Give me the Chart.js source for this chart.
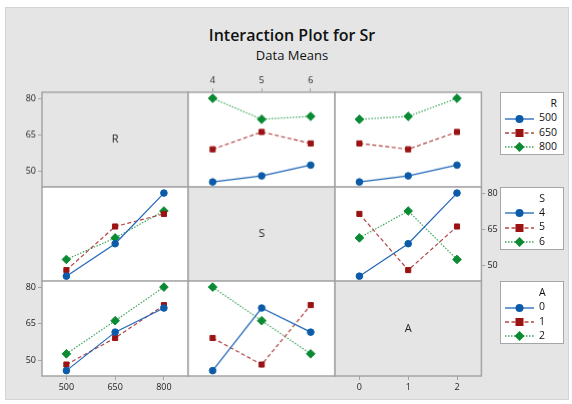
<!DOCTYPE html>
<html>
<head>
<meta charset="utf-8">
<script src="https://cdn.jsdelivr.net/npm/chart.js@4.4.0/dist/chart.umd.min.js"></script>
<style>
  body { margin: 0; background: #fff; font-family: "Open Sans", sans-serif; }
  #frame { position: absolute; left: 5px; top: 7px; width: 562px; height: 391px; background: #e5e5e5; border: 1px solid #d4d4d4; }
  .title { position: absolute; left: 6px; width: 572px; text-align: center; color: #111; white-space: nowrap; }
  .panel { position: absolute; }
  .legend { position: absolute; left: 500px; width: 62px; height: 61px; background: #fff; border: 1px solid #a6a6a6; font-size: 10.5px; color: #111; }
  .lg-col { position: absolute; left: 38px; top: 3px; line-height: 14.4px; }
  .lg-col .t { text-align: right; }
  .lg-sample { position: absolute; left: 4px; }
</style>
</head>
<body>
<div id="frame"></div>
<div class="title" style="top:24px;font-size:16px;font-weight:600;">Interaction Plot for Sr</div>
<div class="title" style="top:46px;font-size:13px;">Data Means</div>
<div id="plots"></div>

<script>
// factor levels
const rLevels = ["500", "650", "800"];
const sLevels = ["4", "5", "6"];
const aLevels = ["0", "1", "2"];
const yTicks = [50, 65, 80];

// means: one row per line level, one value per x level
const rByS = [[45.7, 48.2, 52.6], [59.1, 66.2, 61.5], [80.0, 71.4, 72.6]];
const rByA = [[45.7, 48.2, 52.6], [61.5, 59.1, 66.2], [71.4, 72.6, 80.0]];
const sByR = [[45.7, 59.1, 80.0], [48.2, 66.2, 71.4], [52.6, 61.5, 72.6]];
const sByA = [[45.7, 59.1, 80.0], [71.4, 48.2, 66.2], [61.5, 72.6, 52.6]];
const aByR = [[45.7, 61.5, 71.4], [48.2, 59.1, 72.6], [52.6, 66.2, 80.0]];
const aByS = [[45.7, 71.4, 61.5], [59.1, 48.2, 72.6], [80.0, 66.2, 52.6]];

const factors = [
  { name: "R", levels: rLevels },
  { name: "S", levels: sLevels },
  { name: "A", levels: aLevels },
];
const panelData = [
  [null, rByS, rByA],
  [sByR, null, sByA],
  [aByR, aByS, null],
];

const styles = [
  { line: "#2067b8", fill: "#0b5ba8", dash: [], shape: "circle", radius: 3.3 },
  { line: "#b24444", fill: "#9b1212", dash: [4, 2.5], shape: "rect", radius: 3.6 },
  { line: "#3aa55a", fill: "#0a8a33", dash: [1.5, 1.5], shape: "rectRot", radius: 4.3 },
];

const colEdges = [42, 188.3, 334.6, 481];
const rowEdges = [92, 186.5, 281, 376];
const M = 30, YW = 26, XH = 20;
const frameColor = "#a4a4a4";

const panelPlugin = {
  id: "panelBox",
  beforeDraw(chart, args, opts) {
    const a = chart.chartArea, ctx = chart.ctx;
    ctx.save();
    ctx.fillStyle = opts.bg;
    ctx.fillRect(a.left, a.top, a.right - a.left, a.bottom - a.top);
    ctx.restore();
  },
  afterDraw(chart, args, opts) {
    const a = chart.chartArea, ctx = chart.ctx;
    ctx.save();
    ctx.strokeStyle = frameColor;
    ctx.lineWidth = 1.5;
    ctx.strokeRect(a.left, a.top, a.right - a.left, a.bottom - a.top);
    if (opts.label) {
      ctx.fillStyle = "#222";
      ctx.font = "11px 'Open Sans'";
      ctx.textAlign = "center";
      ctx.textBaseline = "middle";
      ctx.fillText(opts.label, (a.left + a.right) / 2, (a.top + a.bottom) / 2);
    }
    ctx.restore();
  },
};

function makePanel(r, c) {
  const x0 = colEdges[c], x1 = colEdges[c + 1], y0 = rowEdges[r], y1 = rowEdges[r + 1];
  const w = x1 - x0 + 2 * M, h = y1 - y0 + 2 * M;
  const div = document.createElement("div");
  div.className = "panel";
  div.style.left = (x0 - M) + "px";
  div.style.top = (y0 - M) + "px";
  div.style.width = w + "px";
  div.style.height = h + "px";
  const cv = document.createElement("canvas");
  div.appendChild(cv);
  document.getElementById("plots").appendChild(div);

  let yPos = null, xPos = null;
  if (c === 0 && r !== 1) yPos = "left";
  if (r === 1 && c === 2) yPos = "right";
  if (r === 2 && c !== 1) xPos = "bottom";
  if (r === 0 && c === 1) xPos = "top";

  const diag = r === c;
  const data = panelData[r][c];
  const datasets = diag ? [] : data.map((vals, i) => ({
    label: factors[r].levels[i],
    data: vals,
    borderColor: styles[i].line,
    borderWidth: 1.2,
    borderDash: styles[i].dash,
    pointStyle: styles[i].shape,
    pointRadius: styles[i].radius,
    pointBackgroundColor: styles[i].fill,
    pointBorderColor: styles[i].fill,
    pointBorderWidth: 1,
    fill: false,
    tension: 0,
  }));

  const tickFont = { family: "Open Sans", size: 9 };
  new Chart(cv, {
    type: "line",
    data: { labels: factors[c].levels, datasets: datasets },
    options: {
      responsive: true,
      maintainAspectRatio: false,
      animation: false,
      events: [],
      layout: {
        padding: {
          left: yPos === "left" ? M - YW : M,
          right: yPos === "right" ? M - YW : M,
          top: xPos === "top" ? M - XH : M,
          bottom: xPos === "bottom" ? M - XH : M,
        },
      },
      plugins: {
        legend: { display: false },
        tooltip: { enabled: false },
        panelBox: { bg: diag ? "#e5e5e5" : "#ffffff", label: diag ? factors[r].name : "" },
      },
      scales: {
        x: {
          type: "category",
          offset: true,
          display: xPos !== null,
          position: xPos || "bottom",
          grid: { display: true, drawOnChartArea: false, drawTicks: true, tickLength: 4, color: frameColor, offset: false },
          border: { display: false },
          ticks: { font: tickFont, color: "#222", padding: 2, maxRotation: 0 },
          afterFit: (s) => { s.height = xPos ? XH : 0; },
        },
        y: {
          min: 43.5,
          max: 82.5,
          display: yPos !== null,
          position: yPos || "left",
          afterBuildTicks: (s) => { s.ticks = yTicks.map((v) => ({ value: v })); },
          grid: { display: true, drawOnChartArea: false, drawTicks: true, tickLength: 4, color: frameColor },
          border: { display: false },
          ticks: { font: tickFont, color: "#222", padding: 2 },
          afterFit: (s) => { s.width = yPos ? YW : 0; },
        },
      },
    },
    plugins: [panelPlugin],
  });
}

for (let r = 0; r < 3; r++) {
  for (let c = 0; c < 3; c++) makePanel(r, c);
}

// legends
function sampleSvg(st) {
  const dash = st.dash.length ? ` stroke-dasharray="${st.dash.join(",")}"` : "";
  let marker;
  if (st.shape === "circle") marker = `<circle cx="14.5" cy="5" r="4" fill="${st.fill}"/>`;
  else if (st.shape === "rect") marker = `<rect x="10.5" y="1" width="8" height="8" fill="${st.fill}"/>`;
  else marker = `<polygon points="14.5,0 19.5,5 14.5,10 9.5,5" fill="${st.fill}"/>`;
  return `<svg width="29" height="10"><line x1="0" y1="5" x2="29" y2="5" stroke="${st.line}" stroke-width="1.3"${dash}/>${marker}</svg>`;
}

const legendTops = [92, 186.5, 281];
factors.forEach((f, k) => {
  const box = document.createElement("div");
  box.className = "legend";
  box.style.top = legendTops[k] + "px";
  let html = `<div class="lg-col"><div class="t">${f.name}</div>`;
  f.levels.forEach((lv) => { html += `<div>${lv}</div>`; });
  html += "</div>";
  f.levels.forEach((lv, i) => {
    html += `<div class="lg-sample" style="top:${3 + 14.4 * (i + 1) + 2.2}px">${sampleSvg(styles[i])}</div>`;
  });
  box.innerHTML = html;
  document.body.appendChild(box);
});
</script>
</body>
</html>
